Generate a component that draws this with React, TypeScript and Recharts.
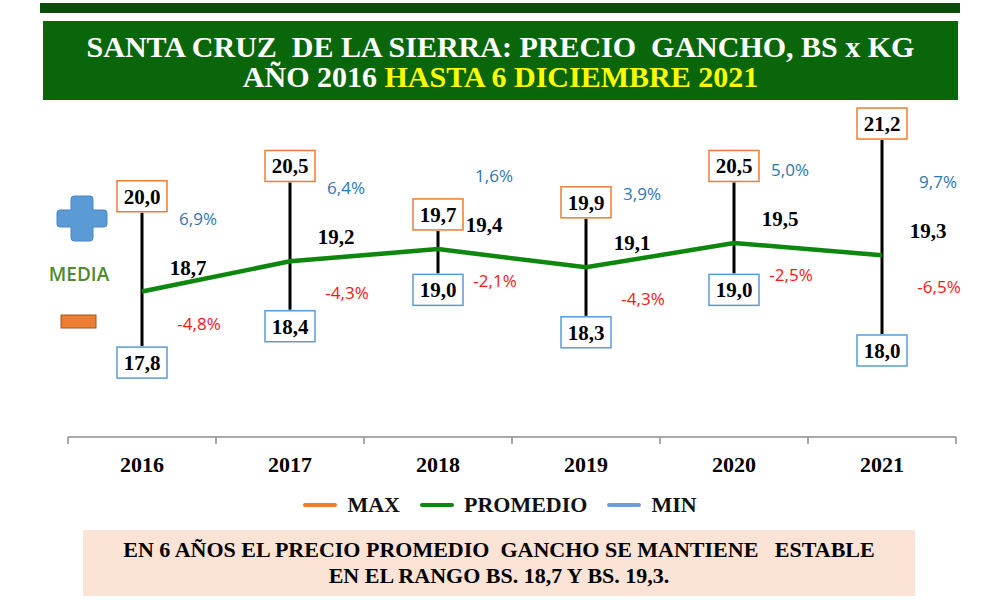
import { ComposedChart, Bar, Line, XAxis, YAxis, LabelList, Legend } from "recharts";

const years = ["2016", "2017", "2018", "2019", "2020", "2021"];
const maxPrices = [20.0, 20.5, 19.7, 19.9, 20.5, 21.2];
const avgPrices = [18.7, 19.2, 19.4, 19.1, 19.5, 19.3];
const minPrices = [17.8, 18.4, 19.0, 18.3, 19.0, 18.0];
const abovePct = [6.9, 6.4, 1.6, 3.9, 5.0, 9.7];
const belowPct = [-4.8, -4.3, -2.1, -4.3, -2.5, -6.5];

const legendItems = [
  { name: "MAX", color: "#ed7d31" },
  { name: "PROMEDIO", color: "#0e870e" },
  { name: "MIN", color: "#6a9fd6" },
];

const data = years.map((year, i) => ({
  year,
  max: maxPrices[i],
  avg: avgPrices[i],
  min: minPrices[i],
  range: [minPrices[i], maxPrices[i]],
  up: abovePct[i],
  down: belowPct[i],
}));

const SERIF = '"Liberation Serif", "Times New Roman", serif';
const SANS = '"Open Sans", "Liberation Sans", sans-serif';

const fmt = (v: number) => v.toFixed(1).replace(".", ",");

const BOX_W = 50;
const BOX_H = 31;

// vertical max-min line with the boxed max/min values at its ends
const RangeShape = (props: any) => {
  const { x, y, width, height, payload } = props;
  const cx = x + width / 2;
  const top = Math.min(y, y + height);
  const bottom = Math.max(y, y + height);

  return (
    <g>
      <line x1={cx} x2={cx} y1={top} y2={bottom} stroke="#000" strokeWidth={3} />
      <rect x={cx - BOX_W / 2} y={top - BOX_H - 1} width={BOX_W} height={BOX_H} fill="#fff" stroke="#ed7d31" strokeWidth={1.5} />
      <text x={cx} y={top - 9} textAnchor="middle" fontFamily={SERIF} fontWeight="bold" fontSize={21} fill="#000">
        {fmt(payload.max)}
      </text>
      <rect x={cx - BOX_W / 2} y={bottom + 1} width={BOX_W} height={BOX_H} fill="#fff" stroke="#5b9bd5" strokeWidth={1.5} />
      <text x={cx} y={bottom + 24} textAnchor="middle" fontFamily={SERIF} fontWeight="bold" fontSize={21} fill="#000">
        {fmt(payload.min)}
      </text>
    </g>
  );
};

const AvgLabel = (props: any) => {
  const { x, y, value } = props;
  return (
    <text x={x + 46} y={y - 17} textAnchor="middle" fontFamily={SERIF} fontWeight="bold" fontSize={21} fill="#000">
      {fmt(value)}
    </text>
  );
};

const UpLabel = (props: any) => {
  const { x, y, value } = props;
  return (
    <text x={x + 56} y={y - 67} textAnchor="middle" fontFamily={SANS} fontSize={17} fill="#2e75b6">
      {fmt(value)}%
    </text>
  );
};

const DownLabel = (props: any) => {
  const { x, y, value } = props;
  return (
    <text x={x + 57} y={y + 38} textAnchor="middle" fontFamily={SANS} fontSize={17} fill="#ff1414">
      {fmt(value)}%
    </text>
  );
};

// category labels with tick marks between the categories
const YearTick = (props: any) => {
  const { x, y, payload, index, visibleTicksCount } = props;
  const half = 74;
  return (
    <g>
      <line x1={x - half} x2={x - half} y1={y} y2={y + 7} stroke="#8c8c8c" strokeWidth={1.5} />
      {index === visibleTicksCount - 1 && (
        <line x1={x + half} x2={x + half} y1={y} y2={y + 7} stroke="#8c8c8c" strokeWidth={1.5} />
      )}
      <text x={x} y={y + 35} textAnchor="middle" fontFamily={SERIF} fontWeight="bold" fontSize={22} fill="#000">
        {payload.value}
      </text>
    </g>
  );
};

const renderLegend = () => (
  <div style={{ display: "flex", justifyContent: "center", alignItems: "center", gap: 20, paddingLeft: 0 }}>
    {legendItems.map((item) => (
      <div key={item.name} style={{ display: "flex", alignItems: "center", gap: 10 }}>
        <div style={{ width: 34, height: 4, background: item.color, borderRadius: 2 }} />
        <span style={{ fontFamily: SERIF, fontWeight: "bold", fontSize: 22, color: "#111" }}>{item.name}</span>
      </div>
    ))}
  </div>
);

export default function App() {
  return (
    <div style={{ position: "fixed", left: 0, top: 0, width: 1000, height: 600, background: "#fff", overflow: "hidden" }}>
      <div style={{ position: "absolute", left: 40, top: 3, width: 920, height: 10, background: "#0b4d0b" }} />
      <div
        style={{
          position: "absolute",
          left: 43,
          top: 21,
          width: 915,
          height: 79,
          background: "#0a660a",
          color: "#fff",
          fontFamily: SERIF,
          fontWeight: "bold",
          fontSize: 30,
          lineHeight: "30px",
          textAlign: "center",
          paddingTop: 11,
          boxSizing: "border-box",
          whiteSpace: "pre",
        }}
      >
        <div>{"SANTA CRUZ  DE LA SIERRA: PRECIO  GANCHO, BS x KG"}</div>
        <div>
          AÑO 2016 <span style={{ color: "#ffff00" }}>HASTA 6 DICIEMBRE 2021</span>
        </div>
      </div>

      <ComposedChart
        width={1000}
        height={600}
        data={data}
        margin={{ top: 37, right: 44, left: 68, bottom: 123 }}
      >
        <XAxis
          dataKey="year"
          height={40}
          interval={0}
          axisLine={{ stroke: "#8c8c8c", strokeWidth: 1.5 }}
          tickLine={false}
          tickSize={0}
          tickMargin={0}
          tick={<YearTick />}
        />
        <YAxis hide type="number" domain={[16.3, 22.9]} />
        <Bar dataKey="range" barSize={4} shape={<RangeShape />} isAnimationActive={false} />
        <Line
          dataKey="avg"
          type="linear"
          stroke="#0e870e"
          strokeWidth={4.5}
          dot={false}
          isAnimationActive={false}
        >
          <LabelList dataKey="avg" content={<AvgLabel />} />
          <LabelList dataKey="up" content={<UpLabel />} />
          <LabelList dataKey="down" content={<DownLabel />} />
        </Line>
        <Legend
          verticalAlign="middle"
          align="center"
          content={renderLegend}
          wrapperStyle={{ top: 492, left: 0, width: 1000 }}
        />
      </ComposedChart>

      <svg width={1000} height={600} style={{ position: "absolute", left: 0, top: 0, pointerEvents: "none" }}>
        <path
          d="M74,196 h16 a3,3 0 0 1 3,3 v11 h11 a3,3 0 0 1 3,3 v11 a3,3 0 0 1 -3,3 h-11 v11 a3,3 0 0 1 -3,3 h-16 a3,3 0 0 1 -3,-3 v-11 h-11 a3,3 0 0 1 -3,-3 v-11 a3,3 0 0 1 3,-3 h11 v-11 a3,3 0 0 1 3,-3 z"
          fill="#5b9bd5"
          stroke="#4a86c0"
          strokeWidth={1}
        />
        <text x={79} y={281} textAnchor="middle" fontFamily={SANS} fontWeight={600} fontSize={19} fill="#4f8a2b">
          MEDIA
        </text>
        <rect x={61} y={315} width={35} height={13} fill="#ed7d31" stroke="#a0561e" strokeWidth={1} />
      </svg>

      <div
        style={{
          position: "absolute",
          left: 83,
          top: 530,
          width: 832,
          height: 66,
          background: "#fbe3d6",
          fontFamily: SERIF,
          fontWeight: "bold",
          fontSize: 22,
          lineHeight: "26px",
          textAlign: "center",
          paddingTop: 7,
          boxSizing: "border-box",
          whiteSpace: "pre",
          color: "#000",
        }}
      >
        <div>{"EN 6 AÑOS EL PRECIO PROMEDIO  GANCHO SE MANTIENE   ESTABLE"}</div>
        <div>{"EN EL RANGO BS. 18,7 Y BS. 19,3."}</div>
      </div>
    </div>
  );
}
